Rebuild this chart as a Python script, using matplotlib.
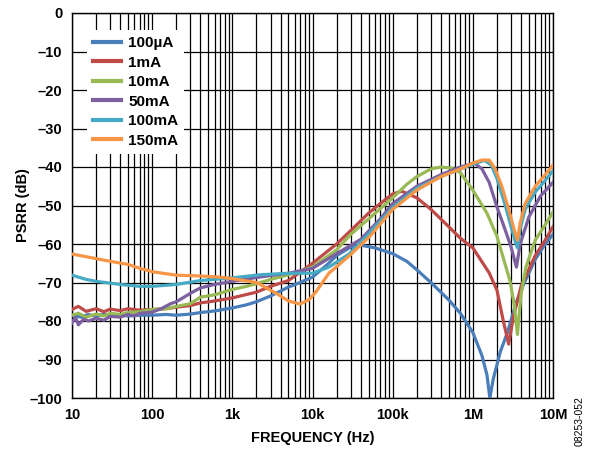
import numpy as np
import matplotlib.pyplot as plt
from matplotlib.ticker import FixedLocator, NullFormatter

plt.rcParams['font.family'] = ['Liberation Sans', 'DejaVu Sans']

# ---- data (frequency in Hz, PSRR in dB) ----
f_100ua = [10, 13, 16, 20, 25, 30, 40, 50, 70, 100, 150, 200, 300, 400, 600,
           1e3, 1.5e3, 2e3, 3e3, 5e3, 7e3, 1e4, 1.5e4, 2e4, 3e4, 4e4, 6e4, 1e5,
           1.5e5, 2e5, 3e5, 5e5, 7e5, 1e6, 1.3e6, 1.5e6, 1.63e6, 1.8e6, 2.2e6,
           2.7e6, 3.5e6, 4.4e6, 6e6, 8e6, 1e7]
psrr_100ua = [-78.5, -79, -78.3, -78.8, -78.2, -78.6, -78.4, -78.7, -78.5, -78.5,
              -78.3, -78.5, -78.2, -77.8, -77.4, -76.6, -75.8, -75, -73.5, -71.2,
              -70, -68.6, -65.5, -63, -60.8, -60.3, -61, -62.5, -64.5, -66.7, -70,
              -74.5, -78, -83, -89, -94, -100, -95, -88, -83, -75, -70, -64, -60,
              -57.5]

f_1ma = [10, 12, 15, 20, 25, 30, 40, 50, 70, 100, 150, 200, 300, 400, 600, 1e3,
         2e3, 3e3, 5e3, 1e4, 2e4, 3e4, 5e4, 7e4, 1e5, 1.3e5, 2e5, 3e5, 5e5, 7e5,
         1e6, 1.6e6, 2e6, 2.4e6, 2.8e6, 3.2e6, 4e6, 6e6, 8e6, 1e7]
psrr_1ma = [-77, -76.2, -77.5, -76.8, -77.6, -76.9, -77.3, -76.8, -77.2, -77,
            -76.8, -76.4, -76, -75.3, -74.8, -74, -72.5, -71, -69.5, -65, -60,
            -56.5, -52, -49.5, -47, -46.3, -48, -51, -55.5, -58.5, -61, -67.5,
            -72, -80, -86, -79, -71, -63, -59, -55.5]

f_10ma = [10, 12, 15, 20, 25, 30, 40, 50, 70, 100, 150, 200, 300, 400, 600,
          1e3, 1.5e3, 2e3, 3e3, 5e3, 7e3, 1e4, 2e4, 3e4, 5e4, 1e5, 1.5e5, 2e5,
          3e5, 4e5, 5.5e5, 7e5, 1e6, 1.5e6, 2e6, 2.9e6, 3.3e6, 3.6e6, 4e6, 4.6e6,
          6e6, 8e6, 1e7]
psrr_10ma = [-78.5, -78, -79, -78.2, -78.7, -78, -78.3, -77.8, -77.6, -77, -76.8,
             -76.2, -75.5, -73.8, -73.2, -71.8, -71, -70.3, -69.2, -68, -67, -66,
             -61.5, -57.5, -53.5, -48, -44.5, -42.5, -40.5, -40, -40.3, -41.5, -46,
             -52, -58, -69.5, -76, -83.5, -73, -66, -59, -55, -51.7]

f_50ma = [10, 11, 12, 14, 16, 20, 25, 30, 40, 50, 60, 70, 100, 130, 170, 200,
          250, 300, 400, 600, 1e3, 2e3, 3e3, 5e3, 1e4, 2e4, 4e4, 7e4, 1e5, 2e5,
          4e5, 7e5, 1.05e6, 1.3e6, 1.6e6, 2e6, 2.5e6, 3e6, 3.5e6, 3.9e6, 5e6,
          7e6, 1e7]
psrr_50ma = [-80.5, -79, -81, -79.5, -80, -79.3, -79.8, -78.8, -79, -78.3, -78.7,
             -78, -77.7, -76.8, -75.5, -75, -73.8, -72.8, -71.4, -70.5, -69.7,
             -68.7, -68.2, -67.6, -66.3, -62.5, -58.8, -53.5, -49.5, -45, -42,
             -40, -39, -40.5, -44, -50.4, -56, -60.8, -66, -60, -53, -47.5, -44]

f_100ma = [10, 15, 20, 40, 70, 100, 200, 400, 1e3, 2.2e3, 5e3, 1e4, 1.6e4, 2.9e4,
           5.2e4, 1e5, 2e5, 4e5, 7e5, 1e6, 1.4e6, 1.7e6, 2e6, 2.5e6, 3e6, 3.4e6,
           3.6e6, 3.9e6, 4.5e6, 6e6, 8e6, 1e7]
psrr_100ma = [-68.1, -69.2, -69.7, -70.5, -71, -71, -70.5, -69.5, -68.8, -68,
              -67.6, -67.6, -66, -62.5, -57, -50.5, -45.5, -42.5, -40.5, -39.3,
              -38.3, -39.5, -43, -49.5, -55.5, -59.5, -61, -56, -51, -46.5, -43.5,
              -41]

f_150ma = [10, 20, 30, 50, 70, 100, 200, 400, 700, 1e3, 2e3, 3e3, 4e3, 5e3, 7e3,
           9e3, 1.1e4, 1.6e4, 2.9e4, 5.2e4, 1e5, 2e5, 4e5, 7e5, 1e6, 1.3e6, 1.6e6,
           1.9e6, 2.3e6, 2.8e6, 3.3e6, 3.6e6, 3.9e6, 4.5e6, 6e6, 8e6, 1e7]
psrr_150ma = [-62.6, -63.8, -64.5, -65.3, -66.3, -67.2, -68.1, -68.3, -68.6, -69,
              -70, -72, -73.5, -74.8, -75.6, -74.5, -72.5, -67.6, -63, -58, -51,
              -46, -42.5, -40.5, -39, -38.2, -38.2, -40.5, -45, -51, -56.5, -59,
              -54.5, -49.5, -45, -42, -39.5]

labels = ["100µA", "1mA", "10mA", "50mA", "100mA", "150mA"]
colors = ["#4A7EBB", "#BE4B48", "#98B954", "#7D60A0", "#46AAC5", "#F79646"]

x_ticks = [10, 100, 1e3, 1e4, 1e5, 1e6, 1e7]
x_ticklabels = ["10", "100", "1k", "10k", "100k", "1M", "10M"]
y_ticks = list(range(0, -101, -10))
y_ticklabels = ["0"] + ["\u2013%d" % (-v) for v in y_ticks[1:]]

fig = plt.figure(figsize=(5.97, 4.53), dpi=100)
ax = fig.add_axes([72 / 597, 1 - 398 / 453, 481 / 597, 385 / 453])

series = [(f_100ua, psrr_100ua), (f_1ma, psrr_1ma), (f_10ma, psrr_10ma),
          (f_50ma, psrr_50ma), (f_100ma, psrr_100ma), (f_150ma, psrr_150ma)]
for (f, p), lab, c in zip(series, labels, colors):
    ax.plot(f, p, color=c, lw=2.3, label=lab, solid_joinstyle="round", zorder=3)

ax.set_xscale("log")
ax.set_xlim(10, 1e7)
ax.set_ylim(-100, 0)

minor = [m * 10 ** e for e in range(1, 7) for m in range(2, 10)]
ax.xaxis.set_major_locator(FixedLocator(x_ticks))
ax.xaxis.set_minor_locator(FixedLocator(minor))
ax.xaxis.set_minor_formatter(NullFormatter())
ax.set_xticks(x_ticks)
ax.set_xticklabels(x_ticklabels)
ax.set_yticks(y_ticks)
ax.set_yticklabels(y_ticklabels)
ax.tick_params(which="both", length=0, labelsize=10.5, pad=7)
for t in ax.get_xticklabels() + ax.get_yticklabels():
    t.set_fontweight("bold")

ax.grid(which="major", axis="both", color="black", lw=0.9)
ax.grid(which="minor", axis="x", color="black", lw=0.9)
for s in ax.spines.values():
    s.set_color("black")
    s.set_linewidth(1.0)

ax.set_xlabel("FREQUENCY (Hz)", fontsize=10.5, fontweight="bold", labelpad=7)
ax.set_ylabel("PSRR (dB)", fontsize=10.5, fontweight="bold", labelpad=0)

leg = ax.legend(loc="upper left", bbox_to_anchor=(15 / 481, 1 - 17 / 385),
                borderaxespad=0, frameon=True, fancybox=False, framealpha=1,
                facecolor="white", edgecolor="none", handlelength=1.8,
                handletextpad=0.5, labelspacing=0.36, borderpad=0.4,
                prop={"size": 11, "weight": "bold"})
leg.set_zorder(5)
for h in leg.get_lines():
    h.set_linewidth(3)

fig.text(580 / 597, 1 - 421 / 453, "08253-052", rotation=90, fontsize=7.5,
         ha="center", va="center")

fig.savefig("out.png", dpi=100)
